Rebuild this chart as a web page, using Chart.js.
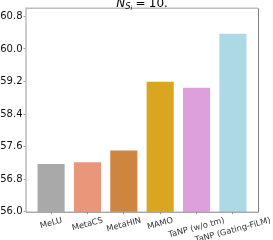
<!DOCTYPE html>
<html><head><meta charset="utf-8">
<script src="https://cdn.jsdelivr.net/npm/chart.js@4/dist/chart.umd.min.js"></script>
<style>html,body{margin:0;padding:0;background:#fff}canvas{display:block}</style>
</head><body>
<canvas id="c" width="273" height="240"></canvas>
<script>
const categories = ['MeLU', 'MetaCS', 'MetaHIN', 'MAMO', 'TaNP (w/o tm)', 'TaNP (Gating-FiLM)'];
const values = [57.20, 57.24, 57.53, 59.22, 59.07, 60.40];
const barColors = ['#a9a9a9', '#e9967a', '#cd853f', '#daa520', '#dda0dd', '#add8e6'];
const yTicks = [56.0, 56.8, 57.6, 58.4, 59.2, 60.0, 60.8];
const yRange = [56.0, 61.0];
const titleValue = '10.';

const FONT = '"DejaVu Sans", sans-serif';

const overlay = {
  id: 'overlay',
  afterDraw(chart) {
    const ctx = chart.ctx;
    const a = chart.chartArea;
    const xs = chart.scales.x;
    ctx.save();
    // frame
    ctx.strokeStyle = '#bdbdbd';
    ctx.lineWidth = 1.5;
    ctx.beginPath();
    ctx.moveTo(a.left, a.bottom); ctx.lineTo(a.left, a.top); ctx.lineTo(a.right, a.top);
    ctx.stroke();
    ctx.strokeStyle = '#808080';
    ctx.lineWidth = 1;
    ctx.beginPath();
    ctx.moveTo(a.left, a.bottom + 0.5); ctx.lineTo(a.right + 0.5, a.bottom + 0.5); ctx.lineTo(a.right + 0.5, a.top);
    ctx.stroke();

    // x labels (rotated 15deg, centered like matplotlib)
    const fs = 8.3;
    ctx.font = fs + 'px ' + FONT;
    ctx.fillStyle = '#333';
    ctx.textAlign = 'center';
    ctx.textBaseline = 'middle';
    const ang = 15 * Math.PI / 180;
    const top = a.bottom + 4;
    categories.forEach((lab, i) => {
      const w = ctx.measureText(lab).width;
      const h = fs * 1.15;
      const H = w * Math.sin(ang) + h * Math.cos(ang);
      const cx = xs.getPixelForValue(i);
      const cy = top + H / 2;
      ctx.save();
      ctx.translate(cx, cy);
      ctx.rotate(-ang);
      ctx.fillText(lab, 0, 0);
      ctx.restore();
    });

    // title  N_{S_i} = 10.
    ctx.fillStyle = '#000';
    ctx.textAlign = 'left';
    ctx.textBaseline = 'alphabetic';
    const base = 6.5;
    const fN = 'italic 12px ' + FONT, fS = 'italic 8.4px ' + FONT, fI = 'italic 6px ' + FONT, fR = '12px ' + FONT;
    const parts = [
      {t: 'N', f: fN, dy: 0, pad: 0},
      {t: 'S', f: fS, dy: 2, pad: 0},
      {t: 'i', f: fI, dy: 3.5, pad: 0},
      {t: '=', f: fR, dy: 0, pad: 3.3},
      {t: titleValue, f: fR, dy: 0, pad: 3.3}
    ];
    let total = 0;
    parts.forEach(p => { ctx.font = p.f; p.w = ctx.measureText(p.t).width; total += p.pad + p.w; });
    let x = (a.left + a.right) / 2 - total / 2;
    parts.forEach(p => { x += p.pad; ctx.font = p.f; ctx.fillText(p.t, x, base + p.dy); x += p.w; });
    ctx.restore();
  }
};

new Chart(document.getElementById('c'), {
  type: 'bar',
  data: {
    datasets: [{
      data: values.map((v, i) => ({x: i, y: v})),
      backgroundColor: barColors,
      borderColor: '#ffffff',
      borderWidth: 1,
      barPercentage: 0.8,
      categoryPercentage: 1.0
    }]
  },
  options: {
    responsive: false,
    devicePixelRatio: 1,
    animation: false,
    layout: {padding: {top: 8.3, right: 15, left: 0, bottom: 0}},
    plugins: {legend: {display: false}, tooltip: {enabled: false}, title: {display: false}},
    scales: {
      x: {
        type: 'linear',
        offset: false,
        min: -0.69, max: 5.69,
        afterBuildTicks: s => { s.ticks = categories.map((c, i) => ({value: i})); },
        afterFit: s => { s.height = 28.3; },
        ticks: {display: false},
        border: {display: false},
        grid: {offset: false, drawOnChartArea: false, drawTicks: true, tickLength: 2.5, color: '#888', lineWidth: 0.8}
      },
      y: {
        type: 'linear',
        min: yRange[0], max: yRange[1],
        afterBuildTicks: s => { s.ticks = yTicks.map(v => ({value: v})); },
        afterFit: s => { s.width = 26; },
        ticks: {
          padding: 1,
          color: '#111',
          font: {family: FONT, size: 10},
          callback: v => Number(v).toFixed(1)
        },
        border: {display: false},
        grid: {drawOnChartArea: false, drawTicks: true, tickLength: 2.5, color: '#888', lineWidth: 0.8}
      }
    }
  },
  plugins: [overlay]
});
</script>
</body></html>
